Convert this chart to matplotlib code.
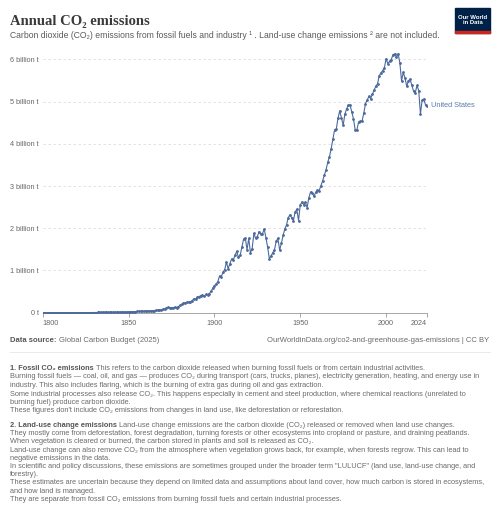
import matplotlib
matplotlib.use('Agg')
import matplotlib.pyplot as plt
import matplotlib.patches as patches

plt.rcParams['font.family'] = ['Liberation Sans', 'DejaVu Sans']

# US annual CO2 emissions, billion tonnes
years = list(range(1800, 2025))
early = [0.0003, 0.0003, 0.0003, 0.0004, 0.0004, 0.0004, 0.0005, 0.0005, 0.0006, 0.0006,
         0.0007, 0.0008, 0.0008, 0.0009, 0.0010, 0.0011, 0.0012, 0.0013, 0.0014, 0.0015,
         0.0016, 0.0018, 0.0019, 0.0021, 0.0023, 0.0025, 0.0027, 0.0030, 0.0033, 0.0036,
         0.0040, 0.0044, 0.0048, 0.0053, 0.0058, 0.0064, 0.0070, 0.0077, 0.0084, 0.0090,
         0.0096, 0.0100, 0.0105, 0.0110, 0.0118, 0.0125, 0.0132, 0.0140, 0.0150, 0.0160]
mid = [0.020, 0.021, 0.023, 0.025, 0.028, 0.029, 0.031, 0.032, 0.032, 0.035,
       0.038, 0.036, 0.039, 0.045, 0.048, 0.049, 0.055, 0.060, 0.066, 0.072,
       0.080, 0.092, 0.110, 0.125, 0.118, 0.120, 0.121, 0.126, 0.122, 0.145,
       0.172, 0.197, 0.220, 0.236, 0.247, 0.250, 0.258, 0.286, 0.327, 0.318,
       0.363, 0.378, 0.405, 0.417, 0.385, 0.432, 0.430, 0.452, 0.502, 0.576]
c20 = [0.640, 0.680, 0.735, 0.870, 0.850, 0.960, 1.020, 1.200, 1.040, 1.160,
       1.270, 1.250, 1.360, 1.450, 1.310, 1.360, 1.550, 1.740, 1.770, 1.490,
       1.760, 1.420, 1.520, 1.880, 1.760, 1.800, 1.920, 1.860, 1.870, 1.980,
       1.780, 1.550, 1.280, 1.350, 1.420, 1.490, 1.690, 1.760, 1.480, 1.640,
       1.830, 1.980, 2.080, 2.250, 2.320, 2.250, 2.180, 2.380, 2.450, 2.180,
       2.550, 2.620, 2.560, 2.610, 2.490, 2.720, 2.860, 2.830, 2.760, 2.850,
       2.900, 2.890, 3.000, 3.120, 3.250, 3.380, 3.560, 3.690, 3.880, 4.110,
       4.330, 4.350, 4.610, 4.780, 4.610, 4.440, 4.700, 4.830, 4.910, 4.920,
       4.750, 4.590, 4.330, 4.330, 4.520, 4.530, 4.540, 4.720, 4.950, 5.040,
       5.120, 5.070, 5.170, 5.270, 5.360, 5.420, 5.610, 5.680, 5.730, 5.800]
c21 = [6.010, 5.900, 5.950, 5.990, 6.110, 6.130, 6.050, 6.130, 5.920, 5.490,
       5.690, 5.560, 5.360, 5.490, 5.530, 5.380, 5.250, 5.210, 5.380, 5.260,
       4.710, 5.030, 5.060, 4.910, 4.900]
emissions = early + mid + c20 + c21

y_ticks = [0, 1, 2, 3, 4, 5, 6]
y_labels = ['0 t', '1 billion t', '2 billion t', '3 billion t',
            '4 billion t', '5 billion t', '6 billion t']
x_ticks = [1800, 1850, 1900, 1950, 2000, 2024]

W, H = 500, 517
line_col = '#4c6a9c'
grey = '#666666'


def px(x, y):
    # pixel position from top-left -> figure fraction
    return x / W, 1 - y / H


fig = plt.figure(figsize=(W / 100, H / 100), dpi=100)
ax = fig.add_axes([42.7 / W, 1 - 312.7 / H, (427.3 - 42.7) / W, (312.7 - 52) / H])

ax.plot(years, emissions, color=line_col, lw=0.8, marker='o', ms=1.0, zorder=3)
ax.set_xlim(1800, 2024)
ax.set_ylim(0, 6.173)

ax.set_yticks(y_ticks)
ax.set_yticklabels(y_labels)
ax.set_xticks(x_ticks)
ax.set_xticklabels([str(t) for t in x_ticks])
labs = ax.get_xticklabels()
labs[0].set_ha('left')
labs[-1].set_ha('right')

ax.tick_params(axis='y', length=0, pad=3, labelsize=5.2, labelcolor=grey)
ax.tick_params(axis='x', length=3, width=0.6, color='#999999', pad=2.5,
               labelsize=5.2, labelcolor=grey)
ax.grid(axis='y', color='#dddddd', lw=0.6, ls=(0, (3, 3)))
for s in ['top', 'right', 'left']:
    ax.spines[s].set_visible(False)
ax.spines['bottom'].set_color('#999999')
ax.spines['bottom'].set_linewidth(0.6)

ax.annotate('United States', xy=(2024, emissions[-1]), xytext=(2.5, 0),
            textcoords='offset points', va='center', ha='left',
            fontsize=5.3, color='#5b7bb1', annotation_clip=False)

# title + subtitle
fig.text(*px(10, 24.5), 'Annual CO₂ emissions', fontsize=10.5, fontweight='bold',
         family=['Liberation Serif', 'DejaVu Serif'], color='#3a3a3a', va='baseline')
fig.text(*px(10, 38.5), 'Carbon dioxide (CO₂) emissions from fossil fuels and industry ¹ . '
         'Land-use change emissions ² are not included.',
         fontsize=6.25, color='#5b5b5b', va='baseline')

# logo
logo = patches.Rectangle(px(455, 33), 35 / W, 25 / H, transform=fig.transFigure,
                         color='#002147', zorder=5)
fig.patches.append(logo)
strip = patches.Rectangle(px(455, 33), 35 / W, 2 / H, transform=fig.transFigure,
                          color='#ce261e', zorder=6)
fig.patches.append(strip)
fig.text(*px(472.5, 20), 'Our World\nin Data', fontsize=4.3, fontweight='bold',
         color='white', ha='center', va='center', linespacing=1.1, zorder=7)


def mixed(x, y, bold, rest, size=5.0):
    t = fig.text(*px(x, y), bold, fontsize=size, fontweight='bold',
                 color='#555555', va='baseline')
    ax.annotate(rest, xy=(1, 0), xycoords=t, va='bottom', ha='left',
                fontsize=size, color='#6b6b6b', annotation_clip=False)
    return t


# source line
mixed(10, 342, 'Data source: ', 'Global Carbon Budget (2025)', size=5.5)
fig.text(*px(489, 342), 'OurWorldinData.org/co2-and-greenhouse-gas-emissions | CC BY',
         fontsize=5.5, color='#6b6b6b', ha='right', va='baseline')
fig.add_artist(plt.Line2D([10 / W, 490 / W], [1 - 352 / H] * 2, color='#e6e6e6', lw=0.6))

fn = 5.3
note_col = '#6b6b6b'
mixed(10, 370, '1. Fossil CO₂ emissions ',
      'This refers to the carbon dioxide released when burning fossil fuels or from certain industrial activities.', fn)
lines1 = [
    'Burning fossil fuels — coal, oil, and gas — produces CO₂ during transport (cars, trucks, planes), electricity generation, heating, and energy use in',
    'industry. This also includes flaring, which is the burning of extra gas during oil and gas extraction.',
    'Some industrial processes also release CO₂. This happens especially in cement and steel production, where chemical reactions (unrelated to',
    'burning fuel) produce carbon dioxide.',
    'These figures don\'t include CO₂ emissions from changes in land use, like deforestation or reforestation.',
]
for i, s in enumerate(lines1):
    fig.text(*px(10, 378.5 + 8.5 * i), s, fontsize=fn, color=note_col, va='baseline')

mixed(10, 427, '2. Land-use change emissions ',
      'Land-use change emissions are the carbon dioxide (CO₂) released or removed when land use changes.', fn)
lines2 = [
    'They mostly come from deforestation, forest degradation, turning forests or other ecosystems into cropland or pasture, and draining peatlands.',
    'When vegetation is cleared or burned, the carbon stored in plants and soil is released as CO₂.',
    'Land-use change can also remove CO₂ from the atmosphere when vegetation grows back, for example, when forests regrow. This can lead to',
    'negative emissions in the data.',
    'In scientific and policy discussions, these emissions are sometimes grouped under the broader term "LULUCF" (land use, land-use change, and',
    'forestry).',
    'These estimates are uncertain because they depend on limited data and assumptions about land cover, how much carbon is stored in ecosystems,',
    'and how land is managed.',
    'They are separate from fossil CO₂ emissions from burning fossil fuels and certain industrial processes.',
]
for i, s in enumerate(lines2):
    fig.text(*px(10, 435.2 + 8.2 * i), s, fontsize=fn, color=note_col, va='baseline')

fig.savefig('out.png', dpi=100, facecolor='white')
